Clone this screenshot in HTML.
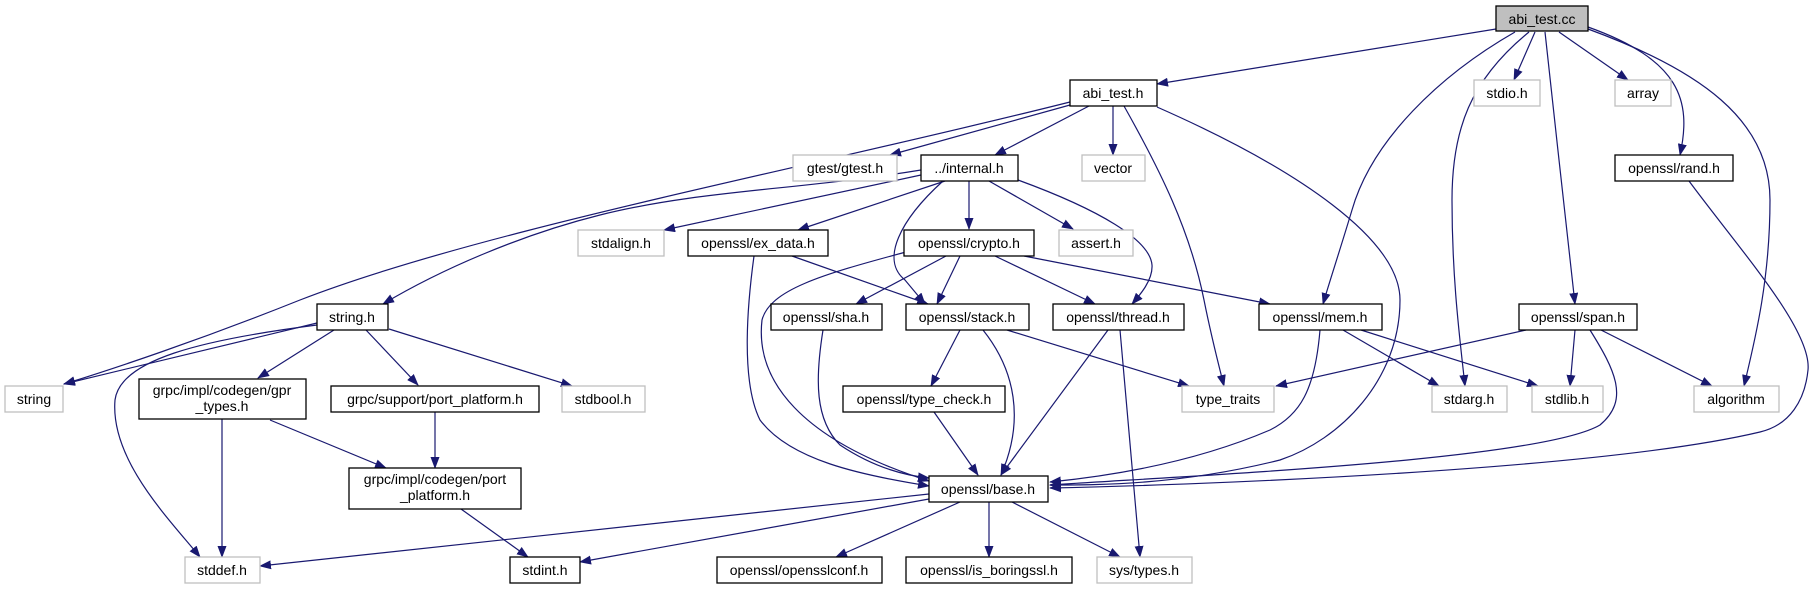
<!DOCTYPE html>
<html><head><meta charset="utf-8"><style>
html,body{margin:0;padding:0;background:#fff;}
svg{display:block;}
text{font-family:"Liberation Sans",sans-serif;font-size:14px;fill:#000;}
.b{fill:#fff;stroke:#000;stroke-width:1.3;}
.g{fill:#fff;stroke:#bfbfbf;stroke-width:1.3;}
.e{fill:none;stroke:#191970;stroke-width:1.2;marker-end:url(#a);}
</style></head><body>
<svg width="1817" height="589" viewBox="0 0 1817 589" xmlns="http://www.w3.org/2000/svg">
<defs><marker id="a" markerUnits="userSpaceOnUse" markerWidth="12" markerHeight="9" refX="11" refY="4.5" orient="auto"><path d="M0,0 L12,4.5 L0,9 z" fill="#191970"/></marker></defs>
<g>
<path class="e" d="M1496,29 L1157,84"/>
<path class="e" d="M1515,32 C1440,75 1372,140 1352,210 C1340,250 1330,280 1323,304"/>
<path class="e" d="M1529,32 C1470,80 1452,130 1452,200 C1452,280 1460,340 1465,386"/>
<path class="e" d="M1535,32 L1514,80"/>
<path class="e" d="M1545,32 C1555,120 1565,220 1575,304"/>
<path class="e" d="M1559,32 L1628,80"/>
<path class="e" d="M1588,27 C1680,60 1692,100 1680,155"/>
<path class="e" d="M1588,29 C1700,70 1770,120 1770,200 C1770,280 1755,340 1744,386"/>
<path class="e" d="M1070,102 C800,170 480,230 300,300 C200,340 110,370 64,384"/>
<path class="e" d="M1070,105 L890,155"/>
<path class="e" d="M1089,106 L995,155"/>
<path class="e" d="M1113,106 L1113,155"/>
<path class="e" d="M1124,106 C1160,170 1190,230 1204,300 C1212,340 1220,370 1224,386"/>
<path class="e" d="M1157,107 C1300,170 1400,240 1400,300 C1400,380 1340,440 1280,460 C1180,485 1100,485 1050,485"/>
<path class="e" d="M921,170 C800,190 700,190 600,215 C520,235 440,270 383,304"/>
<path class="e" d="M921,175 L664,230"/>
<path class="e" d="M945,181 L798,230"/>
<path class="e" d="M969,181 L969,229"/>
<path class="e" d="M989,181 L1073,229"/>
<path class="e" d="M1018,180 C1100,210 1150,240 1152,265 C1153,280 1140,295 1132,304"/>
<path class="e" d="M943,181 C900,220 880,260 905,280 L925,304"/>
<path class="e" d="M946,256 L856,304"/>
<path class="e" d="M960,256 L937,304"/>
<path class="e" d="M995,256 L1095,304"/>
<path class="e" d="M1024,256 L1270,304"/>
<path class="e" d="M906,252 C820,275 770,290 762,320 C755,380 800,440 929,481"/>
<path class="e" d="M792,256 L928,304"/>
<path class="e" d="M754,256 C748,300 740,380 760,420 C790,460 860,475 929,486"/>
<path class="e" d="M823,330 C815,380 815,420 840,445 C870,465 900,475 929,478"/>
<path class="e" d="M960,330 L931,386"/>
<path class="e" d="M983,330 C1015,370 1025,420 1001,475"/>
<path class="e" d="M1007,330 L1189,386"/>
<path class="e" d="M1108,330 L1001,475"/>
<path class="e" d="M1120,330 L1140,557"/>
<path class="e" d="M934,412 L978,475"/>
<path class="e" d="M1320,330 C1315,390 1300,415 1270,430 C1200,460 1120,475 1050,482"/>
<path class="e" d="M1343,330 L1439,386"/>
<path class="e" d="M1361,330 L1538,386"/>
<path class="e" d="M1526,330 L1276,386"/>
<path class="e" d="M1575,330 L1570,386"/>
<path class="e" d="M1601,330 L1712,386"/>
<path class="e" d="M1590,330 C1615,370 1630,400 1600,425 C1540,460 1200,475 1050,485"/>
<path class="e" d="M1689,181 C1740,250 1812,330 1808,370 C1805,400 1790,425 1760,432 C1600,470 1200,485 1050,488"/>
<path class="e" d="M317,323 L64,384"/>
<path class="e" d="M317,325 C200,340 120,360 115,400 C110,460 170,520 200,557"/>
<path class="e" d="M334,330 L258,378"/>
<path class="e" d="M366,330 L418,385"/>
<path class="e" d="M389,329 L572,386"/>
<path class="e" d="M222,419 L222,557"/>
<path class="e" d="M270,420 L386,468"/>
<path class="e" d="M435,412 L435,468"/>
<path class="e" d="M461,509 L528,557"/>
<path class="e" d="M929,494 L260,566"/>
<path class="e" d="M929,499 L580,562"/>
<path class="e" d="M960,502 L836,557"/>
<path class="e" d="M989,502 L989,557"/>
<path class="e" d="M1012,502 L1120,557"/>
</g>
<g>
<rect x="1496" y="6" width="92" height="25" fill="#bfbfbf" stroke="#000" stroke-width="1.3"/><text x="1542" y="24" text-anchor="middle">abi_test.cc</text>
<rect class="b" x="1070" y="80" width="87" height="26"/><text x="1113" y="98" text-anchor="middle">abi_test.h</text>
<rect class="g" x="1474" y="80" width="66" height="26"/><text x="1507" y="98" text-anchor="middle">stdio.h</text>
<rect class="g" x="1615" y="80" width="56" height="26"/><text x="1643" y="98" text-anchor="middle">array</text>
<rect class="g" x="793" y="155" width="104" height="26"/><text x="845" y="173" text-anchor="middle">gtest/gtest.h</text>
<rect class="b" x="921" y="155" width="97" height="26"/><text x="969" y="173" text-anchor="middle">../internal.h</text>
<rect class="g" x="1082" y="155" width="63" height="26"/><text x="1113" y="173" text-anchor="middle">vector</text>
<rect class="b" x="1615" y="155" width="118" height="26"/><text x="1674" y="173" text-anchor="middle">openssl/rand.h</text>
<rect class="g" x="578" y="230" width="86" height="26"/><text x="621" y="248" text-anchor="middle">stdalign.h</text>
<rect class="b" x="688" y="230" width="140" height="26"/><text x="758" y="248" text-anchor="middle">openssl/ex_data.h</text>
<rect class="b" x="904" y="230" width="130" height="26"/><text x="969" y="248" text-anchor="middle">openssl/crypto.h</text>
<rect class="g" x="1059" y="230" width="74" height="26"/><text x="1096" y="248" text-anchor="middle">assert.h</text>
<rect class="b" x="317" y="304" width="71" height="26"/><text x="352" y="322" text-anchor="middle">string.h</text>
<rect class="b" x="771" y="304" width="111" height="26"/><text x="826" y="322" text-anchor="middle">openssl/sha.h</text>
<rect class="b" x="906" y="304" width="123" height="26"/><text x="967" y="322" text-anchor="middle">openssl/stack.h</text>
<rect class="b" x="1053" y="304" width="131" height="26"/><text x="1118" y="322" text-anchor="middle">openssl/thread.h</text>
<rect class="b" x="1259" y="304" width="123" height="26"/><text x="1320" y="322" text-anchor="middle">openssl/mem.h</text>
<rect class="b" x="1519" y="304" width="118" height="26"/><text x="1578" y="322" text-anchor="middle">openssl/span.h</text>
<rect class="g" x="5" y="386" width="58" height="26"/><text x="34" y="404" text-anchor="middle">string</text>
<rect class="b" x="139" y="379" width="167" height="40"/><text x="222" y="395" text-anchor="middle">grpc/impl/codegen/gpr</text><text x="222" y="411" text-anchor="middle">_types.h</text>
<rect class="b" x="331" y="386" width="208" height="26"/><text x="435" y="404" text-anchor="middle">grpc/support/port_platform.h</text>
<rect class="g" x="562" y="386" width="83" height="26"/><text x="603" y="404" text-anchor="middle">stdbool.h</text>
<rect class="b" x="843" y="386" width="162" height="26"/><text x="924" y="404" text-anchor="middle">openssl/type_check.h</text>
<rect class="g" x="1182" y="386" width="92" height="26"/><text x="1228" y="404" text-anchor="middle">type_traits</text>
<rect class="g" x="1432" y="386" width="75" height="26"/><text x="1469" y="404" text-anchor="middle">stdarg.h</text>
<rect class="g" x="1532" y="386" width="71" height="26"/><text x="1567" y="404" text-anchor="middle">stdlib.h</text>
<rect class="g" x="1694" y="386" width="85" height="26"/><text x="1736" y="404" text-anchor="middle">algorithm</text>
<rect class="b" x="349" y="468" width="172" height="41"/><text x="435" y="484" text-anchor="middle">grpc/impl/codegen/port</text><text x="435" y="500" text-anchor="middle">_platform.h</text>
<rect class="b" x="929" y="476" width="119" height="26"/><text x="988" y="494" text-anchor="middle">openssl/base.h</text>
<rect class="g" x="185" y="557" width="75" height="26"/><text x="222" y="575" text-anchor="middle">stddef.h</text>
<rect class="b" x="510" y="557" width="70" height="26"/><text x="545" y="575" text-anchor="middle">stdint.h</text>
<rect class="b" x="717" y="557" width="165" height="26"/><text x="799" y="575" text-anchor="middle">openssl/opensslconf.h</text>
<rect class="b" x="906" y="557" width="166" height="26"/><text x="989" y="575" text-anchor="middle">openssl/is_boringssl.h</text>
<rect class="g" x="1097" y="557" width="95" height="26"/><text x="1144" y="575" text-anchor="middle">sys/types.h</text>
</g>
</svg>
</body></html>
